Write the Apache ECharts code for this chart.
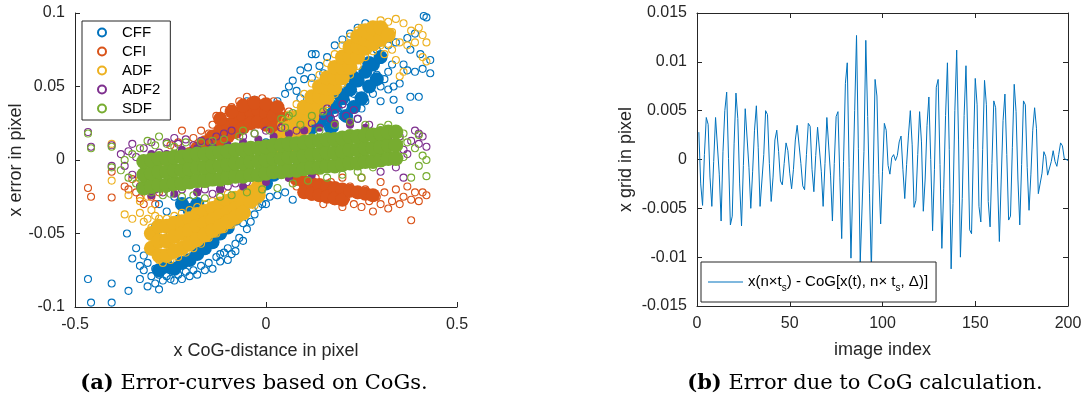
<!DOCTYPE html>
<html>
<head>
<meta charset="utf-8">
<script src="https://cdn.jsdelivr.net/npm/echarts@6/dist/echarts.min.js"></script>
<style>
  html, body { margin: 0; padding: 0; background: #fff; }
  #chart { width: 1087px; height: 399px; }
</style>
</head>
<body>
<div id="chart"></div>
<script>
// ---- left plot: error curves, [x CoG-distance, x error] ----
const cffPts = [
  [-0.466,-0.081],[-0.458,-0.097],[-0.404,-0.084],[-0.404,-0.097],[-0.36,-0.089],
  [-0.364,-0.05],[-0.35,-0.067],[-0.34,-0.06],[-0.33,-0.081],[-0.33,-0.072],[-0.32,-0.075],[-0.32,-0.065],
  [-0.31,-0.086],[-0.31,-0.07],[-0.3,-0.079],[-0.3,-0.062],[-0.29,-0.084],[-0.29,-0.074],[-0.28,-0.078],
  [-0.28,-0.088],[-0.27,-0.082],[-0.27,-0.075],[-0.26,-0.079],[-0.25,-0.081],[-0.25,-0.075],[-0.24,-0.082],
  [-0.23,-0.078],[-0.22,-0.081],[-0.21,-0.076],[-0.2,-0.079],[-0.19,-0.075],[-0.18,-0.078],[-0.17,-0.072],
  [-0.16,-0.075],[-0.15,-0.07],[-0.14,-0.074],[-0.13,-0.066],[-0.12,-0.069],[-0.11,-0.063],[-0.1,-0.06],
  [-0.09,-0.064],[-0.08,-0.057],[-0.07,-0.053],[-0.06,-0.055],[-0.05,-0.047],[-0.06,-0.043],[-0.04,-0.042],
  [-0.03,-0.037],[-0.02,-0.032],[-0.01,-0.03],[0.0,-0.03],[0.01,-0.025],[0.03,-0.024],[0.05,-0.022],
  [0.07,-0.027],[-0.08,-0.062],[-0.1,-0.068],[-0.12,-0.064],
  [-0.28,-0.03],[-0.26,-0.035],[-0.24,-0.025],[-0.22,-0.032],[-0.2,-0.028],[-0.18,-0.035],[-0.25,-0.045],
  [-0.27,-0.05],[-0.29,-0.045],[-0.23,-0.04],
  [-0.08,0.02],[-0.06,0.03],[-0.05,0.04],[-0.03,0.041],[-0.01,0.035],[0.01,0.032],[0.03,0.04],[0.05,0.045],
  [0.06,0.05],[0.07,0.054],[0.08,0.047],[0.09,0.042],[0.04,0.028],[0.02,0.022],[0.0,0.012],[0.02,-0.005],
  [0.04,0.005],[0.06,0.012],[0.08,0.018],[0.1,0.022],[-0.02,-0.015],[0.06,-0.012],[0.08,-0.004],[0.1,0.005],
  [0.12,0.012],
  [0.09,0.061],[0.11,0.063],[0.12,0.072],[0.13,0.072],[0.14,0.064],[0.15,0.059],[0.12,0.056],[0.1,0.055],
  [0.16,0.07],[0.18,0.078],[0.2,0.082],[0.22,0.086],[0.24,0.09],[0.26,0.093],[0.28,0.085],
  [0.12,0.02],[0.14,0.024],[0.16,0.026],[0.18,0.022],[0.2,0.03],[0.22,0.034],[0.24,0.028],[0.26,0.04],
  [0.28,0.045],[0.3,0.05],[0.3,0.04],[0.31,0.055],[0.32,0.06],[0.33,0.065],[0.32,0.048],[0.29,0.058],
  [0.27,0.05],[0.25,0.035],[0.23,0.045],[0.21,0.04],[0.19,0.035],[0.17,0.028],[0.15,0.03],
  [0.334,0.041],[0.35,0.034],[0.378,0.043],[0.4,0.043],[0.39,0.086],[0.413,0.098],[0.42,0.097],
  [0.43,0.068],[0.43,0.059],[0.404,0.072],[0.378,0.075],[0.37,0.061],[0.334,0.05],[0.36,0.065],
  [0.39,0.06],[0.41,0.062],[0.37,0.083],[0.34,0.08],[0.32,0.078],[0.35,0.052],[0.3,0.068],[0.29,0.075]
];
const cffCore = [
  [0.12,0.022],[0.14,0.026],[0.16,0.03],[0.18,0.036],[0.2,0.042],[0.22,0.048],[0.24,0.054],[0.26,0.06],
  [0.28,0.065],[0.3,0.07],[0.17,0.022],[0.21,0.03],[0.25,0.042],[0.29,0.055],[0.23,0.036],[0.27,0.05],
  [0.19,0.045],[0.23,0.056],[0.27,0.066],
  [-0.28,-0.075],[-0.26,-0.072],[-0.24,-0.074],[-0.22,-0.07],[-0.2,-0.068],[-0.18,-0.064],[-0.16,-0.06],
  [-0.14,-0.056],[-0.12,-0.05],[-0.1,-0.046],[-0.08,-0.04],[-0.06,-0.035],[-0.04,-0.028],[-0.02,-0.022],
  [0.0,-0.016],[0.02,-0.01],[-0.22,-0.03],[-0.2,-0.034],[-0.18,-0.03]
];
const cfiPts = [
  [-0.466,-0.019],[-0.458,-0.025],[-0.404,-0.008],[-0.404,-0.0255],[-0.37,-0.018],[-0.36,-0.02],
  [-0.35,-0.013],[-0.34,-0.022],[-0.33,-0.026],[-0.32,-0.03],[-0.31,-0.02],[-0.3,-0.025],[-0.29,-0.03],
  [-0.28,-0.022],[-0.27,-0.016],[-0.3,-0.01],[-0.28,-0.002],[-0.25,0.01],[-0.23,0.012],[-0.21,0.005],
  [-0.22,0.02],[-0.19,0.015],[-0.17,0.02],[-0.15,0.018],[-0.14,0.024],[-0.13,0.03],[-0.12,0.026],
  [-0.11,0.034],[-0.1,0.03],[-0.09,0.036],[-0.08,0.033],[-0.07,0.04],[-0.06,0.037],[-0.05,0.043],
  [-0.04,0.04],[-0.03,0.041],[-0.02,0.038],[-0.01,0.042],[0.0,0.039],[0.01,0.037],[0.02,0.04],
  [0.03,0.036],[0.04,0.034],[0.05,0.03],[0.06,0.033],[0.07,0.026],[0.08,0.022],[0.07,0.018],
  [0.06,-0.012],[0.08,-0.018],[0.09,-0.012],[0.1,-0.022],[0.11,-0.018],[0.12,-0.025],[0.13,-0.012],
  [0.14,-0.022],[0.15,-0.03],[0.16,-0.025],[0.17,-0.015],[0.18,-0.028],[0.19,-0.022],[0.2,-0.032],
  [0.21,-0.026],[0.22,-0.018],[0.23,-0.03],[0.24,-0.024],[0.25,-0.032],[0.26,-0.02],[0.27,-0.028],
  [0.28,-0.035],[0.29,-0.025],[0.3,-0.03],[0.31,-0.022],[0.32,-0.033],[0.33,-0.028],[0.34,-0.02],
  [0.35,-0.03],[0.36,-0.025],[0.37,-0.018],[0.38,-0.041],[0.38,-0.027],[0.39,-0.022],[0.4,-0.028],
  [0.41,-0.022],[0.42,-0.024],[0.3,-0.015],[0.25,-0.012],[0.2,-0.012]
];
const cfiCore = [
  [-0.2,0.004],[-0.18,0.008],[-0.16,0.012],[-0.14,0.016],[-0.14,0.008],[-0.12,0.02],[-0.12,0.012],
  [-0.1,0.024],[-0.1,0.016],[-0.08,0.027],[-0.08,0.019],[-0.06,0.03],[-0.06,0.022],[-0.04,0.033],
  [-0.04,0.025],[-0.02,0.034],[-0.02,0.026],[0.0,0.032],[0.0,0.024],[0.02,0.03],[0.02,0.022],
  [0.04,0.028],[0.06,0.024],
  [-0.12,0.028],[-0.09,0.033],[-0.06,0.037],[-0.03,0.039],[0.0,0.038],[0.03,0.036],
  [0.08,-0.013],[0.1,-0.015],[0.1,-0.022],[0.12,-0.016],[0.12,-0.023],[0.14,-0.017],[0.14,-0.024],
  [0.16,-0.018],[0.16,-0.025],[0.18,-0.019],[0.18,-0.026],[0.2,-0.02],[0.2,-0.027],[0.22,-0.021],
  [0.24,-0.022],[0.26,-0.023],[0.28,-0.024]
];
const adfPts = [
  [0.3,0.095],[0.32,0.094],[0.34,0.096],[0.36,0.093],[0.38,0.088],[0.4,0.09],[0.41,0.085],[0.42,0.08],
  [0.42,0.067],[0.41,0.07],[0.39,0.08],[0.37,0.078],[0.35,0.08],[0.33,0.087],[0.31,0.09],[0.29,0.092],
  [0.27,0.09],[0.26,0.086],[0.25,0.09],[0.35,0.057],[0.36,0.06],[0.33,0.075],[0.31,0.072],[0.3,0.078],
  [0.32,0.083],[0.34,0.068],[0.28,0.09],[0.24,0.088],[0.22,0.084],[0.2,0.078],[0.18,0.072],[0.16,0.066],
  [0.14,0.058],[0.12,0.052],[0.1,0.045],[0.08,0.038],[0.06,0.031],[0.05,0.027],[0.04,0.024],
  [0.12,0.027],[0.14,0.033],[0.16,0.038],[0.18,0.045],[0.2,0.052],[0.22,0.058],[0.24,0.064],
  [0.26,0.07],[0.28,0.074],[0.3,0.08],[0.32,0.079],
  [-0.33,-0.028],[-0.33,-0.036],[-0.32,-0.042],[-0.31,-0.04],[-0.3,-0.046],[-0.3,-0.034],[-0.29,-0.038],
  [-0.31,-0.025],[-0.32,-0.02],[-0.3,-0.052],[-0.29,-0.062],[-0.28,-0.068],[-0.27,-0.07],[-0.25,-0.068],
  [-0.23,-0.066],[-0.21,-0.063],[-0.19,-0.06],[-0.17,-0.057],[-0.15,-0.053],[-0.13,-0.05],[-0.11,-0.047],
  [-0.09,-0.044],[-0.07,-0.04],[-0.05,-0.036],[-0.03,-0.031],[-0.02,-0.027],[-0.26,-0.04],[-0.24,-0.038],
  [-0.22,-0.036],[-0.2,-0.034],[-0.18,-0.032],[-0.16,-0.03],[-0.14,-0.028],[-0.12,-0.025],[-0.1,-0.023],
  [-0.27,-0.045],[-0.28,-0.04],
  [-0.404,0.011],[-0.404,-0.014],[-0.37,-0.037],[-0.36,-0.024],[-0.35,-0.04],[-0.33,-0.013]
];
const adfCore = [
  [-0.3,-0.05],[-0.3,-0.06],[-0.28,-0.045],[-0.28,-0.055],[-0.28,-0.065],[-0.26,-0.045],[-0.26,-0.055],
  [-0.26,-0.065],[-0.24,-0.043],[-0.24,-0.052],[-0.24,-0.062],[-0.22,-0.042],[-0.22,-0.05],[-0.22,-0.06],
  [-0.2,-0.04],[-0.2,-0.048],[-0.2,-0.057],[-0.18,-0.037],[-0.18,-0.045],[-0.18,-0.054],[-0.16,-0.035],
  [-0.16,-0.043],[-0.16,-0.051],[-0.14,-0.033],[-0.14,-0.041],[-0.14,-0.048],[-0.12,-0.03],[-0.12,-0.038],
  [-0.12,-0.045],[-0.1,-0.028],[-0.1,-0.036],[-0.1,-0.042],[-0.08,-0.026],[-0.08,-0.033],[-0.08,-0.039],
  [-0.06,-0.024],[-0.06,-0.03],[-0.06,-0.036],[-0.04,-0.022],[-0.04,-0.028],[-0.02,-0.018],[-0.02,-0.024],
  [0.04,0.002],[0.04,0.009],[0.04,0.016],[0.06,0.008],[0.06,0.015],[0.06,0.022],[0.08,0.015],[0.08,0.022],
  [0.08,0.029],[0.1,0.022],[0.1,0.029],[0.1,0.036],[0.12,0.029],[0.12,0.036],[0.12,0.043],[0.14,0.036],
  [0.14,0.043],[0.14,0.05],[0.16,0.042],[0.16,0.049],[0.16,0.056],[0.18,0.049],[0.18,0.056],[0.18,0.063],
  [0.2,0.056],[0.2,0.063],[0.2,0.07],[0.22,0.063],[0.22,0.07],[0.22,0.077],[0.24,0.07],[0.24,0.077],
  [0.24,0.084],[0.26,0.076],[0.26,0.082],[0.26,0.088],[0.28,0.079],[0.28,0.085],[0.28,0.09],[0.3,0.082],
  [0.3,0.09],[0.32,0.085]
];
const adf2Pts = [
  [-0.466,0.019],[-0.458,0.009],[-0.404,0.010],[-0.404,-0.004],[-0.38,0.004],[-0.37,-0.004],[-0.36,0.006],
  [-0.35,0.011],[-0.35,-0.01],[-0.34,0.002],[-0.33,-0.018],[-0.32,0.008],[-0.31,-0.014],[-0.3,0.012],
  [-0.29,-0.02],[-0.28,0.005],[-0.27,-0.022],[-0.26,0.012],[-0.25,-0.018],[-0.24,0.015],[-0.23,0.011],
  [-0.22,-0.02],[-0.21,0.014],[-0.2,-0.017],[-0.19,0.01],[-0.18,-0.022],[-0.17,0.013],[-0.16,-0.02],
  [-0.15,0.012],[-0.14,-0.023],[-0.13,0.016],[-0.12,-0.02],[-0.11,0.018],[-0.1,-0.018],[-0.09,0.02],
  [-0.08,-0.016],[-0.06,0.016],[-0.05,-0.015],[-0.03,0.018],[-0.02,-0.012],[0.0,0.02],[0.02,-0.01],
  [0.04,0.022],[0.06,-0.008],[0.08,0.02],[0.1,-0.008],[0.12,0.025],[0.14,-0.006],[0.15,0.03],[0.16,0.035],
  [0.17,0.028],[0.18,0.032],[0.19,-0.004],[0.2,0.038],[0.21,0.03],[0.22,0.025],[0.23,0.034],[0.24,0.028],
  [0.25,-0.003],[0.26,0.02],[0.27,0.024],[0.28,0.016],[0.29,-0.002],[0.3,0.018],[0.31,0.005],[0.32,0.014],
  [0.33,0.02],[0.34,0.01],[0.35,0.016],[0.36,0.007],[0.37,0.004],[0.38,0.013],[0.39,0.02],[0.4,0.018],
  [0.41,0.016],[0.42,0.009],[0.36,-0.012],[0.4,0.011],[0.3,-0.008],[0.34,-0.005]
];
const adf2Core = [
  [-0.3,0.004],[-0.26,0.004],[-0.22,0.007],[-0.18,0.008],[-0.14,0.009],[-0.1,0.01],[-0.06,0.012],
  [-0.02,0.014],[0.02,0.016],[0.06,0.018],[0.1,0.02],[0.14,0.022],[0.18,0.025],[0.22,0.024],[0.26,0.022],
  [0.3,0.02],[0.34,0.018],
  [-0.3,-0.024],[-0.24,-0.023],[-0.18,-0.022],[-0.12,-0.02],[-0.06,-0.018],[0.0,-0.015],[0.06,-0.012],
  [0.12,-0.01],[0.18,-0.006],[0.24,-0.004],[0.3,-0.002]
];
const sdfPts = [
  [-0.466,0.018],[-0.458,0.008],[-0.404,0.009],[-0.404,-0.005],[-0.38,-0.007],[-0.37,0.0],[-0.36,-0.012],
  [-0.35,0.004],[-0.34,-0.016],[-0.33,0.008],[-0.32,-0.02],[-0.31,0.013],[-0.3,-0.022],[-0.29,0.01],
  [-0.28,0.016],[-0.27,-0.024],[-0.26,0.011],[-0.25,-0.023],[-0.24,0.009],[-0.22,-0.025],[-0.21,0.012],
  [-0.19,-0.024],[-0.17,0.012],[-0.16,-0.026],[-0.14,0.013],[-0.12,-0.025],[-0.11,0.014],[-0.09,-0.024],
  [-0.07,0.016],[-0.05,-0.022],[-0.03,0.018],[-0.01,-0.02],[0.01,0.02],[0.03,-0.019],[0.05,0.022],
  [0.07,-0.016],[0.09,0.024],[0.11,-0.014],[0.12,0.03],[0.14,0.02],[0.16,-0.012],[0.18,0.024],[0.2,-0.01],
  [0.22,0.026],[0.24,-0.008],[0.26,0.024],[0.28,-0.005],[0.3,0.022],[0.32,0.0],[0.33,0.02],[0.34,0.008],
  [0.35,0.014],[0.36,0.002],[0.37,0.012],[0.38,-0.012],[0.39,0.008],[0.4,0.017],[0.41,0.003],[0.42,0.0],
  [0.42,-0.011],[0.4,-0.004],[0.36,0.018],[0.3,0.012],[0.06,0.03],[0.07,0.032],[0.04,0.028],[-0.06,0.02],
  [0.25,-0.012],[0.15,0.033],[0.32,0.024]
];
const sdfCore = [
  [-0.32,-0.019],[-0.32,-0.010],[-0.32,-0.001],[-0.30,-0.018],[-0.30,-0.009],[-0.30,0.000],
  [-0.28,-0.017],[-0.28,-0.008],[-0.28,0.001],[-0.26,-0.017],[-0.26,-0.008],[-0.26,0.001],
  [-0.24,-0.016],[-0.24,-0.007],[-0.24,0.002],[-0.22,-0.016],[-0.22,-0.007],[-0.22,0.002],
  [-0.20,-0.015],[-0.20,-0.006],[-0.20,0.003],[-0.18,-0.014],[-0.18,-0.005],[-0.18,0.004],
  [-0.16,-0.014],[-0.16,-0.005],[-0.16,0.004],[-0.14,-0.013],[-0.14,-0.004],[-0.14,0.005],
  [-0.12,-0.013],[-0.12,-0.004],[-0.12,0.005],[-0.10,-0.012],[-0.10,-0.003],[-0.10,0.006],
  [-0.08,-0.011],[-0.08,-0.002],[-0.08,0.007],[-0.06,-0.011],[-0.06,-0.002],[-0.06,0.007],
  [-0.04,-0.010],[-0.04,-0.001],[-0.04,0.008],[-0.02,-0.010],[-0.02,-0.001],[-0.02,0.008],
  [0.00,-0.009],[0.00,0.000],[0.00,0.009],[0.02,-0.008],[0.02,0.001],[0.02,0.010],
  [0.04,-0.008],[0.04,0.001],[0.04,0.010],[0.06,-0.007],[0.06,0.002],[0.06,0.011],
  [0.08,-0.007],[0.08,0.002],[0.08,0.011],[0.10,-0.006],[0.10,0.003],[0.10,0.012],
  [0.12,-0.005],[0.12,0.004],[0.12,0.013],[0.14,-0.005],[0.14,0.004],[0.14,0.013],
  [0.16,-0.004],[0.16,0.005],[0.16,0.014],[0.18,-0.004],[0.18,0.005],[0.18,0.014],
  [0.20,-0.003],[0.20,0.006],[0.20,0.015],[0.22,-0.002],[0.22,0.007],[0.22,0.016],
  [0.24,-0.002],[0.24,0.007],[0.24,0.016],[0.26,-0.001],[0.26,0.008],[0.26,0.017],
  [0.28,-0.001],[0.28,0.008],[0.28,0.017],[0.30,0.000],[0.30,0.009],[0.30,0.018],
  [0.32,0.001],[0.32,0.010],[0.32,0.019],[0.34,0.001],[0.34,0.010],[0.34,0.019]
];
const xTicksA = [-0.5, 0.5, 0.5];      // min, max, interval
const yTicksA = [-0.1, 0.1, 0.05];

// ---- right plot: grid error per image index (1..200) ----
const gridErr = [
  0.0028,-0.0025,-0.0047,0.0005,0.0043,0.0036,-0.0018,-0.0048,-0.0002,0.0043,
  0.0045,-0.0015,-0.0063,0.0008,0.0050,0.0069,0.0001,-0.0067,-0.0058,0.0016,
  0.0068,0.0042,-0.0025,-0.0068,-0.0006,0.0052,0.0052,-0.0008,-0.0050,-0.0012,
  0.0030,0.0055,0.0012,-0.0048,-0.0049,0.0005,0.0050,0.0046,-0.0004,-0.0043,
  -0.0018,0.0020,0.0030,0.0008,-0.0022,-0.0026,-0.0004,0.0017,0.0009,-0.0014,
  -0.0030,-0.0010,0.0020,0.0035,0.0034,-0.0004,-0.0027,-0.0031,0.0005,0.0037,
  0.0034,-0.0010,-0.0033,0.0004,0.0033,0.0031,-0.0012,-0.0048,-0.0004,0.0043,
  0.0042,-0.0016,-0.0063,-0.0004,0.0044,0.0049,-0.0018,-0.0081,-0.0002,0.0078,
  0.0099,-0.0008,-0.0101,-0.0025,0.0050,0.0127,0.0011,-0.0105,-0.0107,0.0008,
  0.0122,0.0044,-0.0035,-0.0113,-0.0015,0.0082,0.0065,-0.0015,-0.0066,-0.0012,
  0.0037,0.0030,-0.0006,-0.0015,0.0002,0.0005,-0.0001,0.0004,0.0018,0.0024,
  -0.0010,-0.0040,-0.0005,0.0025,0.0050,0.0015,-0.0049,-0.0042,0.0005,0.0049,
  0.0018,-0.0053,-0.0020,0.0035,0.0064,0.0000,-0.0073,-0.0010,0.0074,0.0082,
  -0.0005,-0.0091,-0.0030,0.0045,0.0099,0.0010,-0.0112,-0.0045,0.0050,0.0112,
  0.0020,-0.0100,-0.0040,0.0045,0.0096,0.0020,-0.0072,-0.0076,0.0010,0.0083,
  0.0056,-0.0048,-0.0064,0.0010,0.0081,0.0056,-0.0043,-0.0069,-0.0004,0.0060,
  0.0053,-0.0020,-0.0084,-0.0020,0.0040,0.0067,0.0005,-0.0062,-0.0058,0.0012,
  0.0077,0.0049,-0.0020,-0.0067,-0.0005,0.0060,0.0056,-0.0008,-0.0052,-0.0015,
  0.0030,0.0053,0.0032,-0.0035,-0.0036,-0.0014,0.0008,0.0003,-0.0016,-0.0016,
  -0.0002,0.0009,-0.0002,-0.0007,0.0005,0.0017,0.0014,0.0001,0.0000,-0.0001
];
const xTicksB = [0, 200, 50];
const yTicksB = [-0.015, 0.015, 0.005];

const seriesNames = ['CFF', 'CFI', 'ADF', 'ADF2', 'SDF'];
const colors = ['#0072BD', '#D95319', '#EDB120', '#7E2F8E', '#77AC30'];
const axisColor = '#262626';
const sans = 'Liberation Sans';
const serif = 'DejaVu Serif';

const chart = echarts.init(document.getElementById('chart'), null, { renderer: 'canvas' });

function axisStyle(showLabel) {
    return {
        axisLine: { show: true, onZero: false, lineStyle: { color: axisColor, width: 1 } },
        axisTick: { show: true, inside: true, length: 5, lineStyle: { color: axisColor } },
        axisLabel: { show: showLabel, color: axisColor, fontFamily: sans, fontSize: 16, margin: 10 },
        splitLine: { show: false },
    }
}

const nameStyle = { color: axisColor, fontFamily: sans, fontSize: 18 };

const pointSets = [cffPts, cfiPts, adfPts, adf2Pts, sdfPts];
const coreSets = [cffCore, cfiCore, adfCore, adf2Core, sdfCore];
const coreSizes = [14, 14, 15, 8, 15];

const scatterSeries = [];
seriesNames.forEach((name, i) => {
    scatterSeries.push({
        name,
        type: 'scatter',
        xAxisIndex: 0,
        yAxisIndex: 0,
        symbol: 'circle',
        symbolSize: 7,
        data: pointSets[i],
        itemStyle: { color: 'rgba(0,0,0,0)', borderColor: colors[i], borderWidth: 1.1, opacity: 1 },
        emphasis: { disabled: true },
    })
    scatterSeries.push({
        name,
        type: 'scatter',
        xAxisIndex: 0,
        yAxisIndex: 0,
        symbol: 'circle',
        symbolSize: coreSizes[i],
        data: coreSets[i],
        itemStyle: { color: colors[i], opacity: 1 },
        emphasis: { disabled: true },
        silent: true,
    })
})

const option = {
    animation: false,
    backgroundColor: '#fff',
    grid: [
        { left: 75, right: 630, top: 13, bottom: 92 },
        { left: 697, right: 19, top: 13, bottom: 93 },
    ],
    xAxis: [
        {
            type: 'value', gridIndex: 0, position: 'bottom',
            min: xTicksA[0], max: xTicksA[1], interval: xTicksA[2],
            name: 'x CoG-distance in pixel', nameLocation: 'middle', nameGap: 35, nameTextStyle: nameStyle,
            ...axisStyle(true),
        },
        {
            type: 'value', gridIndex: 1, position: 'bottom',
            min: xTicksB[0], max: xTicksB[1], interval: xTicksB[2],
            name: 'image index', nameLocation: 'middle', nameGap: 35, nameTextStyle: nameStyle,
            ...axisStyle(true),
        },
        {
            type: 'value', gridIndex: 1, position: 'top',
            min: xTicksB[0], max: xTicksB[1], interval: xTicksB[2],
            ...axisStyle(false),
        },
    ],
    yAxis: [
        {
            type: 'value', gridIndex: 0, position: 'left',
            min: yTicksA[0], max: yTicksA[1], interval: yTicksA[2],
            name: 'x error in pixel', nameLocation: 'middle', nameGap: 48, nameTextStyle: nameStyle,
            ...axisStyle(true),
        },
        {
            type: 'value', gridIndex: 1, position: 'left',
            min: yTicksB[0], max: yTicksB[1], interval: yTicksB[2],
            name: 'x grid in pixel', nameLocation: 'middle', nameGap: 62, nameTextStyle: nameStyle,
            ...axisStyle(true),
        },
        {
            type: 'value', gridIndex: 1, position: 'right',
            min: yTicksB[0], max: yTicksB[1], interval: yTicksB[2],
            ...axisStyle(false),
        },
    ],
    legend: [
        {
            data: seriesNames,
            orient: 'vertical',
            left: 82,
            top: 21,
            icon: 'circle',
            itemWidth: 8,
            itemHeight: 8,
            itemGap: 2,
            padding: [3, 10, 3, 15],
            backgroundColor: '#fff',
            borderColor: axisColor,
            borderWidth: 1,
            borderRadius: 0,
            selectedMode: false,
            textStyle: { color: '#000', fontFamily: sans, fontSize: 15, lineHeight: 17, padding: [0, 0, 0, 11] },
        },
        {
            data: ['gridErr'],
            left: 701,
            top: 262,
            icon: 'rect',
            itemWidth: 35,
            itemHeight: 1,
            padding: [9, 8, 9, 7],
            backgroundColor: '#fff',
            borderColor: axisColor,
            borderWidth: 1,
            borderRadius: 0,
            selectedMode: false,
            formatter: () => '{t|x(n×t}{s|s}{t|) - CoG[x(t), n× t}{s|s}{t|, Δ)]}',
            textStyle: {
                color: '#000', fontFamily: sans, fontSize: 15,
                rich: {
                    t: { fontFamily: sans, fontSize: 15, color: '#000', lineHeight: 18 },
                    s: { fontFamily: sans, fontSize: 10, color: '#000', lineHeight: 10, padding: [12, 0, 0, 0] },
                },
            },
        },
    ],
    graphic: [
        {
            type: 'text',
            style: {
                text: '{b|(a)} Error-curves based on CoGs.',
                x: 254, y: 384, textAlign: 'center', textVerticalAlign: 'middle',
                fontFamily: serif, fontSize: 21, fill: '#000',
                rich: { b: { fontFamily: serif, fontSize: 21, fontWeight: 'bold', fill: '#000' } },
            },
        },
        {
            type: 'text',
            style: {
                text: '{b|(b)} Error due to CoG calculation.',
                x: 865, y: 384, textAlign: 'center', textVerticalAlign: 'middle',
                fontFamily: serif, fontSize: 21, fill: '#000',
                rich: { b: { fontFamily: serif, fontSize: 21, fontWeight: 'bold', fill: '#000' } },
            },
        },
    ],
    series: [
        ...scatterSeries,
        {
            name: 'gridErr',
            type: 'line',
            xAxisIndex: 1,
            yAxisIndex: 1,
            data: gridErr.map((v, i) => [i + 1, v]),
            symbol: 'none',
            lineStyle: { color: '#0072BD', width: 1 },
            itemStyle: { color: '#0072BD' },
            emphasis: { disabled: true },
        },
    ],
}

chart.setOption(option)
</script>
</body>
</html>
